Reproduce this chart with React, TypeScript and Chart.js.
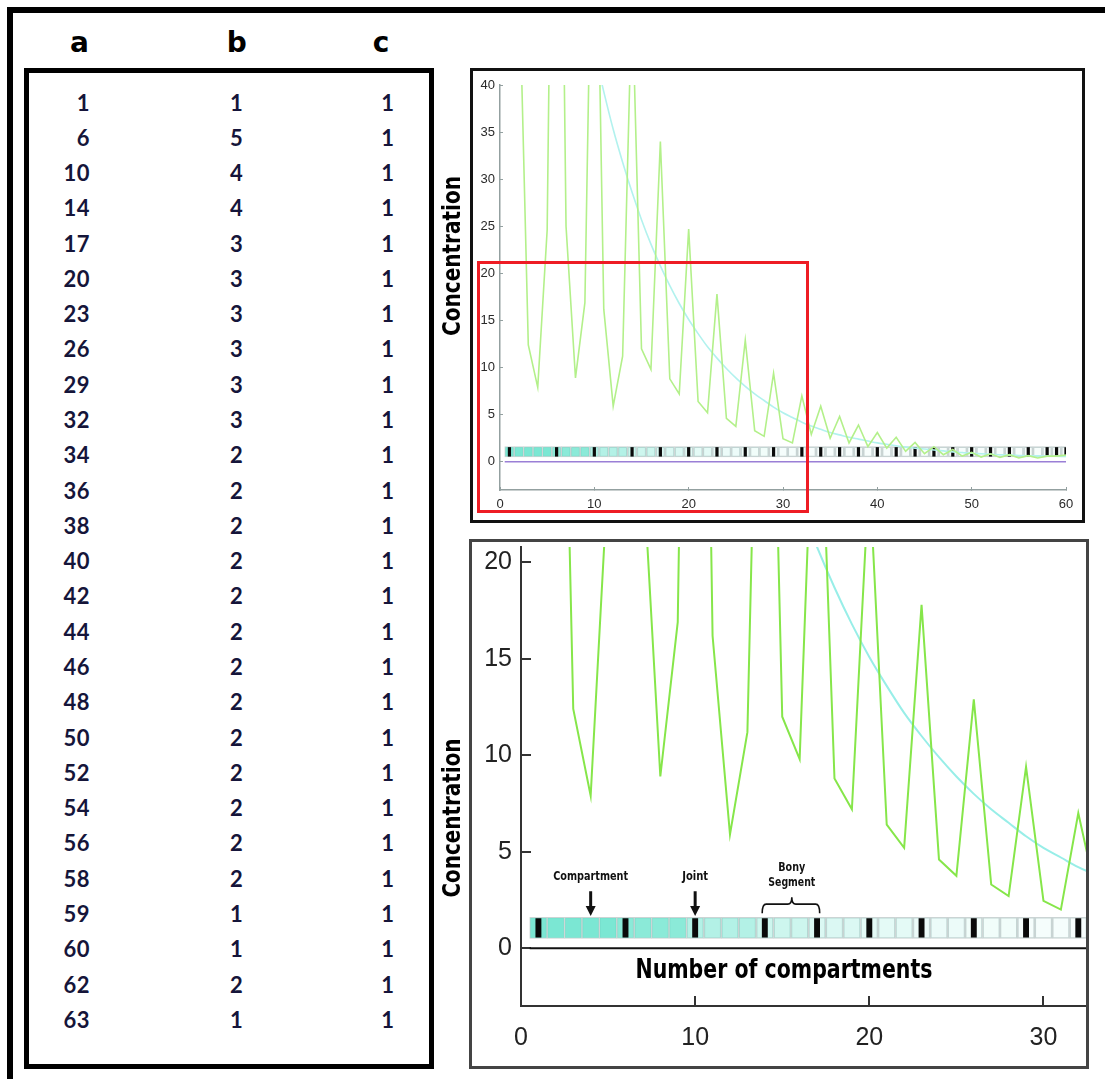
import React, { useEffect, useRef } from 'react';
import { Chart, registerables } from 'chart.js';

Chart.register(...registerables);

// ---- Table columns ----
const COL_A = [1, 6, 10, 14, 17, 20, 23, 26, 29, 32, 34, 36, 38, 40, 42, 44, 46, 48, 50, 52, 54, 56, 58, 59, 60, 62, 63];
const COL_B = [1, 5, 4, 4, 3, 3, 3, 3, 3, 3, 2, 2, 2, 2, 2, 2, 2, 2, 2, 2, 2, 2, 2, 1, 1, 2, 1];
const COL_C = [1, 1, 1, 1, 1, 1, 1, 1, 1, 1, 1, 1, 1, 1, 1, 1, 1, 1, 1, 1, 1, 1, 1, 1, 1, 1, 1];
const HEADERS = ['a', 'b', 'c'];

// ---- Series (compartment index 1..60) ----
const X_POS = [
  1, 2, 3, 4, 5, 6, 7, 8, 9, 10, 11, 12, 13, 14, 15, 16, 17, 18, 19, 20,
  21, 22, 23, 24, 25, 26, 27, 28, 29, 30, 31, 32, 33, 34, 35, 36, 37, 38, 39, 40,
  41, 42, 43, 44, 45, 46, 47, 48, 49, 50, 51, 52, 53, 54, 55, 56, 57, 58, 59, 60,
];
const GREEN = [
  100, 53, 12.4, 7.9, 24.6, 110, 25, 8.9, 16.9, 75,
  16.2, 5.9, 11.2, 50, 12.0, 9.8, 34.0, 8.8, 7.2, 24.7,
  6.4, 5.2, 17.8, 4.6, 3.75, 12.9, 3.3, 2.7, 9.4, 2.45,
  2.0, 7.0, 2.9, 5.9, 2.5, 4.8, 2.0, 3.9, 1.6, 3.1,
  1.45, 2.6, 1.1, 2.05, 0.85, 1.6, 0.75, 1.3, 0.6, 1.0,
  0.5, 0.85, 0.45, 0.75, 0.4, 0.65, 0.4, 0.6, 0.6, 0.7,
];
const CYAN = [
  113, 102, 91.6, 82.4, 74.1, 66.7, 60.0, 53.9, 48.5, 43.6,
  39.3, 35.3, 31.8, 28.6, 25.7, 23.1, 20.8, 18.7, 16.8, 15.1,
  13.6, 12.2, 11.0, 9.9, 8.9, 8.0, 7.2, 6.5, 5.8, 5.2,
  4.7, 4.2, 3.8, 3.45, 3.1, 2.85, 2.6, 2.4, 2.2, 2.0,
  1.85, 1.7, 1.55, 1.45, 1.35, 1.25, 1.15, 1.05, 0.98, 0.9,
  0.85, 0.8, 0.75, 0.7, 0.67, 0.64, 0.62, 0.6, 0.58, 0.56,
];
const ZERO_LINE_X = [0.5, 60];
const STRIP_RANGE = [0.5, 1.6];
const JOINT_RANGE = [0.55, 1.55];

const TOP_X_TICKS = [0, 10, 20, 30, 40, 50, 60];
const TOP_Y_TICKS = [0, 5, 10, 15, 20, 25, 30, 35, 40];
const BOT_X_TICKS = [0, 10, 20, 30];
const BOT_Y_TICKS = [0, 5, 10, 15, 20];

const Y_TITLE = 'Concentration';
const X_TITLE = 'Number of compartments';
const ARROW_NOTES = [
  { text: 'Compartment', x: 4, textY: 3.73, from: 2.95, to: 1.67, maxW: 75 },
  { text: 'Joint', x: 10, textY: 3.73, from: 2.95, to: 1.67, maxW: 26 },
];
const BRACE_NOTE = { lines: ['Bony', 'Segment'], lineY: [4.2, 3.42], maxW: [27, 47], from: 13.85, to: 17.15, mid: 15.55, top: 2.28, end: 1.81, peak: 2.64 };
const X_TITLE_POS = { x: 15.1, y: -1.56 };

function segmentStart(x: number) {
  let s = COL_A[0];
  for (const j of COL_A) if (j <= x) s = j;
  return s;
}
function cellColor(x: number) {
  const c = CYAN[X_POS.indexOf(segmentStart(x))];
  const a = Math.max(0.05, Math.min(0.8, c / 95));
  return `rgba(90,225,200,${a.toFixed(3)})`;
}

function buildDatasets(o: any) {
  return [
    {
      type: 'line', data: X_POS.map((x, i) => ({ x, y: GREEN[i] })), borderColor: o.green,
      borderWidth: o.lw, pointRadius: 0, tension: 0,
    },
    {
      type: 'line', data: X_POS.map((x, i) => ({ x, y: CYAN[i] })), borderColor: o.cyan,
      borderWidth: o.lw, pointRadius: 0, cubicInterpolationMode: 'monotone',
    },
    {
      type: 'line', data: ZERO_LINE_X.map((x) => ({ x, y: 0 })), borderColor: o.zero,
      borderWidth: o.zw, pointRadius: 0,
    },
    {
      type: 'bar', data: COL_A.map((x) => ({ x, y: JOINT_RANGE })), backgroundColor: '#0a0a0a',
      borderWidth: 0, barPercentage: 0.34, categoryPercentage: 1, grouped: false,
    },
    {
      type: 'bar', data: X_POS.map((x) => ({ x, y: STRIP_RANGE })), backgroundColor: X_POS.map(cellColor),
      borderColor: 'rgba(200,210,210,0.95)', borderWidth: 1, borderSkipped: false,
      barPercentage: 1, categoryPercentage: 1, grouped: false,
    },
  ];
}

function drawVerticalTitle(ctx: CanvasRenderingContext2D, x: number, y: number, maxW: number) {
  ctx.save();
  ctx.translate(x, y);
  ctx.rotate(-Math.PI / 2);
  ctx.font = 'bold 25px "DejaVu Sans Condensed", "DejaVu Sans", sans-serif';
  ctx.fillStyle = '#000';
  ctx.textAlign = 'center';
  ctx.textBaseline = 'alphabetic';
  ctx.fillText(Y_TITLE, 0, 0, maxW);
  ctx.restore();
}

const topTitlePlugin = {
  id: 'topTitle',
  afterDraw(chart: any) {
    drawVerticalTitle(chart.ctx, 24, 188, 160);
  },
};

const bottomNotesPlugin = {
  id: 'bottomNotes',
  afterDraw(chart: any) {
    const { ctx } = chart;
    const x = chart.scales.x;
    const y = chart.scales.y;
    drawVerticalTitle(ctx, 24, 279, 159);
    ctx.save();
    ctx.fillStyle = '#111';
    ctx.strokeStyle = '#111';
    ctx.textAlign = 'center';
    ctx.textBaseline = 'middle';
    ctx.font = 'bold 13px "DejaVu Sans Condensed", "DejaVu Sans", sans-serif';
    for (const a of ARROW_NOTES) {
      const px = x.getPixelForValue(a.x);
      ctx.fillText(a.text, px, y.getPixelForValue(a.textY), a.maxW);
      const top = y.getPixelForValue(a.from);
      const tip = y.getPixelForValue(a.to);
      ctx.lineWidth = 3;
      ctx.beginPath();
      ctx.moveTo(px, top);
      ctx.lineTo(px, tip - 8);
      ctx.stroke();
      ctx.beginPath();
      ctx.moveTo(px - 5, tip - 10);
      ctx.lineTo(px + 5, tip - 10);
      ctx.lineTo(px, tip);
      ctx.closePath();
      ctx.fill();
    }
    const b = BRACE_NOTE;
    const bx = x.getPixelForValue(b.mid);
    b.lines.forEach((t, i) => ctx.fillText(t, bx, y.getPixelForValue(b.lineY[i]), b.maxW[i]));
    const L = x.getPixelForValue(b.from);
    const R = x.getPixelForValue(b.to);
    const T = y.getPixelForValue(b.top);
    const E = y.getPixelForValue(b.end);
    const P = y.getPixelForValue(b.peak);
    ctx.lineWidth = 1.6;
    ctx.beginPath();
    ctx.moveTo(L, E);
    ctx.quadraticCurveTo(L, T, L + 4, T);
    ctx.lineTo(bx - 4, T);
    ctx.quadraticCurveTo(bx, T, bx, P);
    ctx.quadraticCurveTo(bx, T, bx + 4, T);
    ctx.lineTo(R - 4, T);
    ctx.quadraticCurveTo(R, T, R, E);
    ctx.stroke();

    ctx.font = 'bold 26px "DejaVu Sans Condensed", "DejaVu Sans", sans-serif';
    ctx.fillStyle = '#000';
    ctx.textBaseline = 'alphabetic';
    ctx.fillText(X_TITLE, x.getPixelForValue(X_TITLE_POS.x), y.getPixelForValue(X_TITLE_POS.y), 297);
    ctx.restore();
  },
};

function makeScale(o: any) {
  return {
    type: 'linear',
    min: o.min,
    max: o.max,
    offset: false,
    afterBuildTicks: (s: any) => {
      s.ticks = o.ticks.map((v: number) => ({ value: v }));
    },
    afterFit: (s: any) => {
      if (o.width !== undefined) s.width = o.width;
      if (o.height !== undefined) s.height = o.height;
      s.paddingLeft = 0;
      s.paddingRight = 0;
      s.paddingTop = 0;
      s.paddingBottom = 0;
    },
    grid: { offset: false, drawOnChartArea: false, drawTicks: true, tickLength: o.tl, color: o.axisColor, lineWidth: o.tw },
    border: { display: true, color: o.axisColor, width: o.aw },
    ticks: {
      font: { family: '"Liberation Sans", Arial, sans-serif', size: o.fs },
      color: o.labelColor, padding: o.pad, maxRotation: 0, autoSkip: false,
    },
  };
}

function ChartCanvas({ config, style, width, height }: any) {
  const ref = useRef<HTMLCanvasElement>(null);
  useEffect(() => {
    if (!ref.current) return;
    const c = new Chart(ref.current, config());
    return () => c.destroy();
  }, []);
  return <canvas ref={ref} width={width} height={height} style={{ position: 'absolute', ...style, width, height }} />;
}

const topConfig = () => ({
  type: 'line',
  data: { datasets: buildDatasets({ green: '#b3f08a', cyan: '#b2f2ee', zero: '#9a7fd6', lw: 1.6, zw: 1.5 }) },
  options: {
    responsive: false,
    animation: false,
    events: [],
    layout: { padding: { left: 37, right: 24, top: 17, bottom: 0 } },
    plugins: { legend: { display: false }, tooltip: { enabled: false } },
    scales: {
      x: makeScale({ min: 0, max: 60, ticks: TOP_X_TICKS, height: 34, tl: -3, axisColor: '#93a0a0', tw: 1, aw: 1.5, fs: 13, labelColor: '#2a2a2a', pad: 10 }),
      y: makeScale({ min: -3, max: 40, ticks: TOP_Y_TICKS, width: 27, tl: -3, axisColor: '#93a0a0', tw: 1, aw: 1.5, fs: 13, labelColor: '#2a2a2a', pad: 8 }),
    },
  },
  plugins: [topTitlePlugin],
});

const bottomConfig = () => ({
  type: 'line',
  data: { datasets: buildDatasets({ green: '#86e64a', cyan: '#98eee8', zero: '#111', lw: 2, zw: 2 }) },
  options: {
    responsive: false,
    animation: false,
    events: [],
    layout: { padding: { left: 35, right: 3, top: 8, bottom: 0 } },
    plugins: { legend: { display: false }, tooltip: { enabled: false } },
    scales: {
      x: makeScale({ min: 0, max: 32.5, ticks: BOT_X_TICKS, height: 63, tl: -10, axisColor: '#333', tw: 2, aw: 2, fs: 25, labelColor: '#222', pad: 27 }),
      y: makeScale({ min: -3, max: 20.8, ticks: BOT_Y_TICKS, width: 50, tl: -10, axisColor: '#333', tw: 2, aw: 2, fs: 25, labelColor: '#222', pad: 19 }),
    },
  },
  plugins: [bottomNotesPlugin],
});

const ROW_Y0 = 103.5;
const ROW_STEP = 35.28;

export default function App() {
  const cell: React.CSSProperties = {
    position: 'absolute', fontFamily: 'Lato, "Open Sans", sans-serif', fontWeight: 700, fontSize: 22,
    lineHeight: '24px', height: 24, color: '#15153a', whiteSpace: 'nowrap', letterSpacing: 0.5,
  };
  const head: React.CSSProperties = {
    position: 'absolute', fontFamily: '"DejaVu Sans", sans-serif', fontWeight: 700, fontSize: 28,
    lineHeight: '34px', height: 34, width: 60, textAlign: 'center', top: 26, color: '#000',
  };
  const headerX = [79.5, 236.7, 381];
  return (
    <div style={{ position: 'absolute', left: 0, top: 0, width: 1105, height: 1079, overflow: 'hidden', background: '#fff' }}>
      <div style={{ position: 'absolute', left: 7, top: 7, width: 1200, height: 1200, borderTop: '6px solid #000', borderLeft: '6px solid #000' }} />
      {HEADERS.map((h, i) => (
        <div key={h} style={{ ...head, left: headerX[i] - 30 }}>{h}</div>
      ))}
      <div style={{ position: 'absolute', left: 24, top: 68, width: 410, height: 1001, border: '5px solid #000', boxSizing: 'border-box' }} />
      {COL_A.map((v, i) => {
        const top = ROW_Y0 + i * ROW_STEP - 13;
        return (
          <React.Fragment key={i}>
            <div style={{ ...cell, left: 20, width: 70, textAlign: 'right', top }}>{v}</div>
            <div style={{ ...cell, left: 196.7, width: 80, textAlign: 'center', top }}>{COL_B[i]}</div>
            <div style={{ ...cell, left: 348, width: 80, textAlign: 'center', top }}>{COL_C[i]}</div>
          </React.Fragment>
        );
      })}
      <ChartCanvas config={topConfig} width={654} height={456} style={{ left: 436, top: 68 }} />
      <ChartCanvas config={bottomConfig} width={654} height={530} style={{ left: 436, top: 539 }} />
      <div style={{ position: 'absolute', left: 470, top: 68, width: 615, height: 455, border: '3px solid #111', boxSizing: 'border-box' }} />
      <div style={{ position: 'absolute', left: 469, top: 539, width: 620, height: 530, border: '3px solid #444', boxSizing: 'border-box' }} />
      <div style={{ position: 'absolute', left: 477, top: 261, width: 332, height: 252, border: '3px solid #ee1c24', boxSizing: 'border-box' }} />
    </div>
  );
}
